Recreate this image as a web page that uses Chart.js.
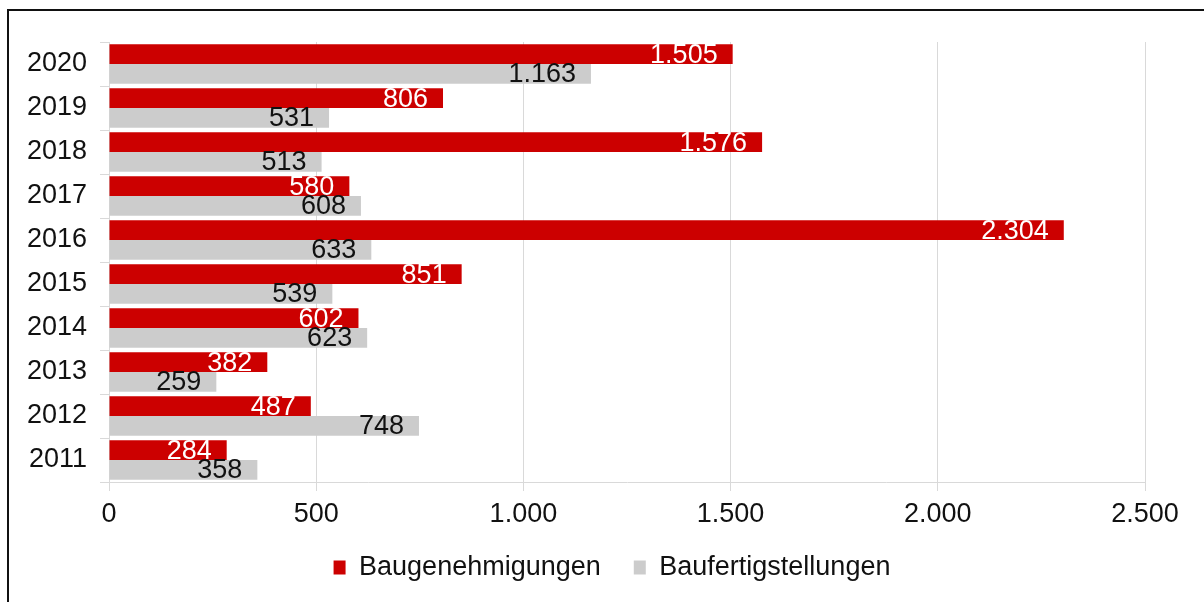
<!DOCTYPE html>
<html>
<head>
<meta charset="utf-8">
<script src="https://cdn.jsdelivr.net/npm/chart.js@4"></script>
<style>
  html, body { margin: 0; padding: 0; background: #fff; overflow: hidden; }
  #rahmen { position: absolute; left: 7px; top: 9px; width: 1230px; height: 620px; border: 2px solid #111; }
  #bauChart { position: absolute; left: 0; top: 0; }
</style>
</head>
<body>
<div id="rahmen">
  <canvas id="bauChart" width="1195" height="591"></canvas>
</div>
<script>
const jahre = ["2020", "2019", "2018", "2017", "2016", "2015", "2014", "2013", "2012", "2011"];
const baugenehmigungen = [1505, 806, 1576, 580, 2304, 851, 602, 382, 487, 284];
const baufertigstellungen = [1163, 531, 513, 608, 633, 539, 623, 259, 748, 358];
const xTicks = [0, 500, 1000, 1500, 2000, 2500];

const schrift = '"Liberation Sans", Arial, sans-serif';
const tausender = v => String(v).replace(/\B(?=(\d{3})+(?!\d))/g, ".");

// Werte ans Balkenende schreiben
const wertLabels = {
  id: "wertLabels",
  afterDatasetsDraw(chart) {
    const ctx = chart.ctx;
    ctx.save();
    ctx.font = "27px " + schrift;
    ctx.textAlign = "right";
    ctx.textBaseline = "middle";
    chart.data.datasets.forEach((ds, i) => {
      const meta = chart.getDatasetMeta(i);
      ctx.fillStyle = i === 0 ? "#ffffff" : "#111111";
      meta.data.forEach((bar, j) => {
        ctx.fillText(tausender(ds.data[j]), bar.x - 15, bar.y + 1);
      });
    });
    ctx.restore();
  }
};

// Legende etwas nach rechts und oben schieben (wie im Original)
const legendeVerschieben = {
  id: "legendeVerschieben",
  afterLayout(chart) {
    const lg = chart.legend;
    lg.left += 35;
    lg.right += 35;
    lg.top -= 9;
    lg.bottom -= 9;
  }
};

new Chart(document.getElementById("bauChart").getContext("2d"), {
  type: "bar",
  data: {
    labels: jahre,
    datasets: [
      { label: "Baugenehmigungen", data: baugenehmigungen, backgroundColor: "#cc0000", borderWidth: 0 },
      { label: "Baufertigstellungen", data: baufertigstellungen, backgroundColor: "#cccccc", borderWidth: 0 }
    ]
  },
  options: {
    indexAxis: "y",
    responsive: false,
    animation: false,
    devicePixelRatio: 1,
    categoryPercentage: 0.9,
    barPercentage: 1.0,
    layout: { padding: { left: 0, right: 59, top: 31, bottom: 2 } },
    scales: {
      x: {
        min: 0,
        max: 2500,
        afterBuildTicks: scale => { scale.ticks = xTicks.map(v => ({ value: v })); },
        afterFit: scale => { scale.height = 48; },
        grid: { color: "#d9d9d9", tickLength: 9, lineWidth: 1 },
        border: { color: "#d9d9d9" },
        ticks: {
          padding: 7,
          color: "#111",
          font: { family: schrift, size: 27 },
          callback: v => tausender(v)
        }
      },
      y: {
        afterFit: scale => { scale.width = 100; },
        grid: { drawOnChartArea: false, color: "#d9d9d9", tickLength: 9 },
        border: { color: "#d9d9d9" },
        ticks: {
          padding: 13,
          color: "#111",
          font: { family: schrift, size: 27 }
        }
      }
    },
    plugins: {
      tooltip: { enabled: false },
      legend: {
        position: "bottom",
        labels: {
          boxWidth: 12,
          boxHeight: 14,
          padding: 33,
          color: "#111",
          font: { family: schrift, size: 27 }
        }
      }
    }
  },
  plugins: [wertLabels, legendeVerschieben]
});
</script>
</body>
</html>
